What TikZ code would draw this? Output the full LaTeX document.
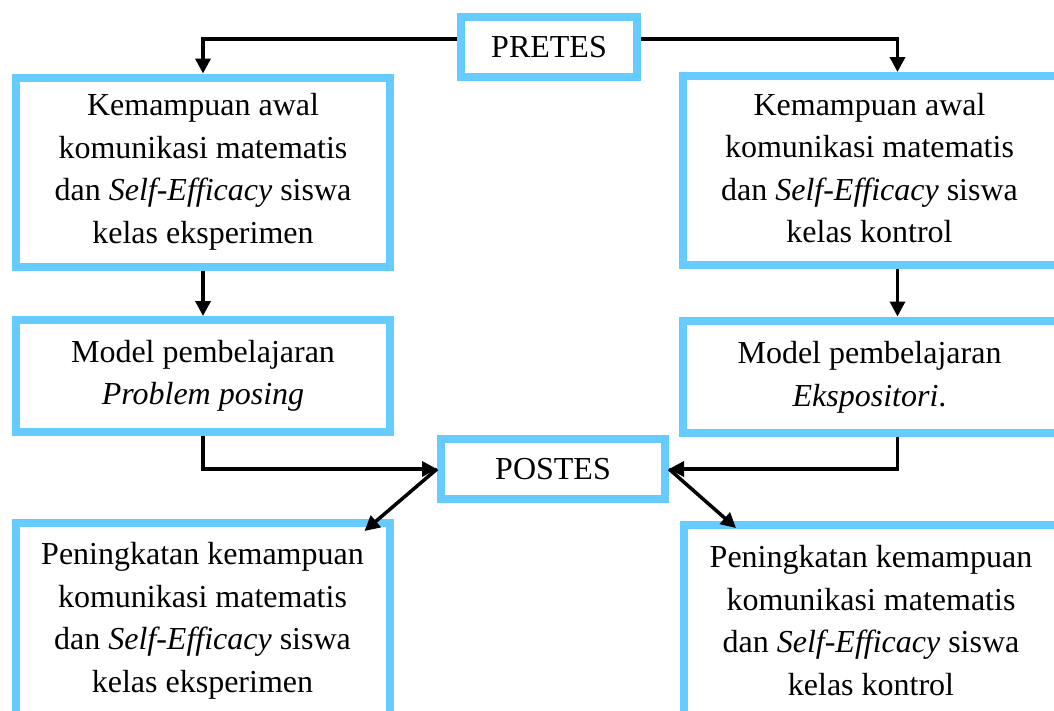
\documentclass[tikz,border=0pt]{standalone}
\usepackage{fontspec}
\setmainfont{Liberation Serif}
\usetikzlibrary{arrows.meta}
\definecolor{birumuda}{RGB}{102,204,255}
\begin{document}
\begin{tikzpicture}[x=1pt, y=-1pt,
		kotak/.style={draw=birumuda, line width=8pt, minimum width=374pt, minimum height=189pt, align=center, font=\fontsize{32}{42.5}\selectfont},
		kanan/.style={kotak, minimum width=430pt},
		panah/.style={-{Triangle[length=15pt, width=15pt]}, line width=3.5pt}]
		\useasboundingbox (0,0) rectangle (1054,710);
		\node[kotak, minimum width=176pt, minimum height=60pt] (pretes) at (549,47) {PRETES};
		\node[kotak, minimum width=224pt, minimum height=60pt] (postes) at (553,469) {POSTES};
		\node[kotak] (awalE) at (203,172) {Kemampuan awal\\komunikasi matematis\\dan \textit{Self-Efficacy} siswa\\kelas eksperimen};
		\node[kotak, minimum height=112pt] (modelE) at (203,376) {Model pembelajaran\\\textit{Problem posing}};
		\node[kotak, minimum height=196pt] (hasilE) at (202.5,621) {Peningkatan kemampuan\\komunikasi matematis\\dan \textit{Self-Efficacy} siswa\\kelas eksperimen};
		% kotak kanan terpotong di tepi gambar
		\node[kanan] (awalK) at (897.5,170.5) {\begin{tabular}{@{}c@{\hspace{56pt}}}Kemampuan awal\\komunikasi matematis\\dan \textit{Self-Efficacy} siswa\\kelas kontrol\end{tabular}};
		\node[kanan, minimum height=112pt] (modelK) at (897.5,376.5) {\begin{tabular}{@{}c@{\hspace{56pt}}}Model pembelajaran\\\textit{Ekspositori}.\end{tabular}};
		\node[kanan, minimum height=196pt] (hasilK) at (899,623) {\begin{tabular}{@{}c@{\hspace{56pt}}}Peningkatan kemampuan\\komunikasi matematis\\dan \textit{Self-Efficacy} siswa\\kelas kontrol\end{tabular}};
		% panah
		\draw[panah] ([yshift=8pt]pretes.west) -| (awalE.north);
		\draw[panah] ([yshift=8pt]pretes.east) -| (awalK.north);
		\draw[panah] (awalE.south) -- (modelE.north);
		\draw[panah] (awalK.south) -- (modelK.north);
		\draw[panah] (modelE.south) |- (postes.west);
		\draw[panah] (modelK.south) |- (postes.east);
		\draw[panah] (postes.west) -- ([xshift=-29pt, yshift=-12pt]hasilE.north east);
		\draw[panah] (postes.east) -- ([xshift=56pt, yshift=-7pt]hasilK.north west);
	\end{tikzpicture}
\end{document}
